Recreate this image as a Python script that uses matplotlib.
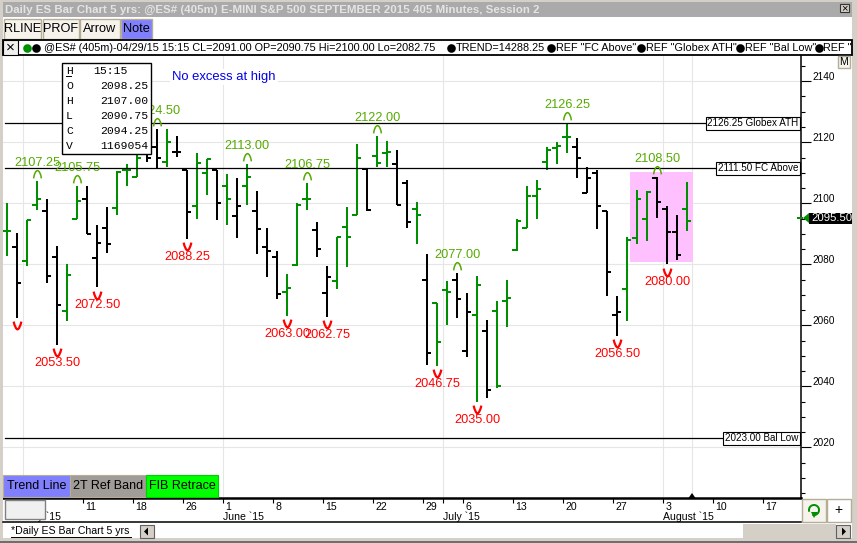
import matplotlib
matplotlib.use('Agg')
import matplotlib.pyplot as plt
from matplotlib.path import Path
from matplotlib.patches import Rectangle, Arc, Polygon
from matplotlib.transforms import blended_transform_factory

plt.rcParams['font.family'] = ['Liberation Sans', 'DejaVu Sans']

# bar data
highs = [2100, 2090.25, 2094.5, 2107.25, 2101.25, 2086, 2080.25, 2105.75, 2105.75, 2092.75,
         2098.75, 2110.5, 2112.75, 2116, 2120, 2124.5, 2124.25, 2122, 2111, 2116.5,
         2114.5, 2111, 2109.75, 2108.25, 2113, 2104, 2091.75, 2084.5, 2076.75, 2100.25,
         2106.75, 2093.75, 2079.5, 2089, 2098.75, 2119.5, 2111.5, 2122, 2120.25, 2117.5,
         2107.5, 2100.5, 2083.25, 2067.25, 2074.5, 2077, 2070.5, 2076.25, 2061.75, 2068,
         2075, 2094.75, 2105.75, 2107.5, 2118.5, 2120, 2126.25, 2121.5, 2111.75, 2110.75,
         2097.5, 2069.5, 2089, 2104.5, 2104, 2108.5, 2099, 2096, 2107]
lows = [2082.75, 2062.5, 2079.5, 2097.75, 2074, 2053.5, 2061.5, 2094.75, 2090, 2072.5,
        2083.75, 2096, 2105.75, 2108.5, 2113.5, 2111.5, 2112, 2115.25, 2088.25, 2094.75,
        2102.75, 2094.5, 2092.75, 2088.75, 2099.5, 2083.5, 2076, 2068.5, 2063, 2079.5,
        2097.75, 2082.25, 2062.75, 2072, 2079, 2096.25, 2097.5, 2111.75, 2111.75, 2099.5,
        2092, 2086.5, 2047, 2046.75, 2060, 2062.25, 2049.5, 2035, 2036.25, 2039.5,
        2059.5, 2084.25, 2091.75, 2095, 2111, 2113, 2116.5, 2108.25, 2103.25, 2091.5,
        2069.5, 2056.5, 2061.5, 2086.75, 2087.75, 2095.25, 2080, 2081.5, 2090.75]
opens = [2090.75, 2085.75, 2081, 2099.5, 2097.5, 2082.5, 2064.75, 2094.75, 2101.5, 2082,
         2092, 2098.5, 2111, 2108.5, 2118, 2118.5, 2113.5, 2116.75, 2110.75, 2099,
         2110, 2110.75, 2105.75, 2095.75, 2105.75, 2097.5, 2085.75, 2082.25, 2071, 2079.75,
         2101.5, 2091.25, 2070.5, 2074.5, 2092.25, 2096.25, 2111.25, 2115.5, 2116.5, 2113,
         2106.75, 2098.25, 2075, 2067.25, 2071.5, 2075, 2051.5, 2063.5, 2058, 2064.75,
         2068, 2084.75, 2092, 2102.5, 2113.5, 2118.25, 2121.75, 2118.5, 2103.5, 2110,
         2097.5, 2063.5, 2071.75, 2088.5, 2095, 2108.25, 2098.25, 2090.5, 2098.25]
closes = [2091, 2074, 2094.5, 2101.5, 2076.25, 2066.5, 2076.5, 2100.75, 2090, 2087,
          2086.75, 2110.25, 2111, 2115, 2115, 2114.75, 2120, 2116.75, 2097.25, 2113.25,
          2114.5, 2100.25, 2101.5, 2099.25, 2108.5, 2091.5, 2084.5, 2070.25, 2072.25, 2099.5,
          2101.5, 2085, 2075.75, 2089, 2089, 2115, 2097.75, 2113.25, 2116.75, 2099.5,
          2093.75, 2096, 2051, 2054.5, 2071, 2068.75, 2064.5, 2073.25, 2038.75, 2040.25,
          2069, 2094.25, 2102.5, 2104.75, 2117.5, 2118.75, 2121.75, 2115, 2108.25, 2099,
          2077.5, 2064.25, 2088, 2101.5, 2103.75, 2100.5, 2090.5, 2083, 2094.25]
bar_green = [1, 0, 1, 1, 0, 0, 1, 1, 0, 0, 0, 1, 1, 1, 0, 0, 1, 0, 0, 1, 1, 0, 1, 0, 1, 0, 0, 0, 1, 1,
             1, 0, 0, 1, 1, 1, 0, 1, 1, 0, 0, 1, 0, 1, 1, 0, 0, 1, 0, 1, 1, 1, 1, 1, 1, 1, 1, 0, 0, 0,
             0, 0, 1, 1, 1, 0, 0, 0, 1]

# swing marks: bar index and printed price
top_bars = [3, 7, 15, 24, 30, 37, 45, 56, 65]
top_text = ['2107.25', '2105.75', '2124.50', '2113.00', '2106.75', '2122.00', '2077.00', '2126.25', '2108.50']
bottom_bars = [1, 5, 9, 18, 28, 32, 43, 47, 61, 66]
bottom_text = ['', '2053.50', '2072.50', '2088.25', '2063.00', '2062.75', '2046.75', '2035.00', '2056.50', '2080.00']

# reference lines
ref_values = [2126.25, 2111.50, 2023.00]
ref_text = ['2126.25 Globex ATH', '2111.50 FC Above', '2023.00 Bal Low']

# axis labels
price_major = [2020, 2040, 2060, 2080, 2100, 2120, 2140]
price_minor = [2005, 2010, 2015, 2025, 2030, 2035, 2045, 2050, 2055, 2065, 2070, 2075, 2085, 2090, 2095,
               2105, 2110, 2115, 2125, 2130, 2135, 2145]
date_bars = [8, 13, 18, 22, 27, 32, 37, 42, 44, 46, 51, 56, 61, 66, 71, 76]
date_text = ['11', '18', '26', '1', '8', '15', '22', '29', '', '6', '13', '20', '27', '3', '10', '17']
month_bars = [2, 22, 44, 66]
month_text = ['May `15', 'June `15', 'July `15', 'August `15']
grid_bars = [2, 22, 44, 66, 68.87]

info_rows = ['O', 'H', 'L', 'C', 'V']
info_vals = ['2098.25', '2107.00', '2090.75', '2094.25', '1169054']

GREEN = '#008f00'
LABEL_GREEN = '#55aa00'
W, H = 857, 543


def px(v):
    return v * 0.72


fig = plt.figure(figsize=(W / 100, H / 100), dpi=100, facecolor='white')

# price panel runs from x=3 to 801 and y=55 to 498 in picture pixels
ax = fig.add_axes([3 / W, 1 - 498 / H, 798 / W, 443 / H])
ax.set_xlim(-0.367, 79.43)
ax.set_ylim(2003.4, 2148.6)
for s in ['left', 'top']:
    ax.spines[s].set_visible(False)
ax.spines['right'].set_linewidth(1.1)
ax.spines['bottom'].set_linewidth(1.8)

ax.yaxis.tick_right()
ax.set_yticks(price_major)
ax.set_yticks(price_minor, minor=True)
ax.set_yticklabels([])
ax.tick_params(axis='y', which='major', length=px(10), width=0.8)
ax.tick_params(axis='y', which='minor', length=px(4), width=0.8)
for v in price_major:
    ax.annotate(str(v), (1, v), xycoords=ax.get_yaxis_transform(), xytext=(px(11), px(4)),
                textcoords='offset points', ha='left', va='center', fontsize=7.2, annotation_clip=False)

# vertical and horizontal grid
for v in price_major:
    ax.axhline(v, color='#e6e6e6', lw=0.8, zorder=0)
for b in grid_bars:
    ax.axvline(b - 0.33, color='#e6e6e6', lw=0.8, zorder=0)

# marked value area
ax.add_patch(Rectangle((62.33, 2080.75), 6.3, 29.65, fc='#ffc0ff', ec='none', zorder=1))

# bars
for i in range(len(highs)):
    c = GREEN if bar_green[i] else 'black'
    ax.vlines(i, lows[i], highs[i], color=c, lw=1.45, zorder=3, snap=True)
    ax.hlines(opens[i], i - 0.42, i, color=c, lw=1.45, zorder=3, snap=True)
    ax.hlines(closes[i], i, i + 0.42, color=c, lw=1.45, zorder=3, snap=True)

# ref lines
for v, t in zip(ref_values, ref_text):
    ax.plot([-0.17, 79], [v, v], color='black', lw=0.9, zorder=4)
    ax.annotate(t, (1, v), xycoords=ax.get_yaxis_transform(), xytext=(-2, 0), textcoords='offset points',
                ha='right', va='center', fontsize=7.1, zorder=6,
                bbox=dict(boxstyle='square,pad=0.16', fc='white', ec='black', lw=0.8))

# swing markers
arch = Path([(-1, -1), (-0.75, 0.9), (0, 1), (0.75, 0.9), (1, -1)],
            [Path.MOVETO, Path.CURVE3, Path.LINETO, Path.CURVE3, Path.LINETO])
vee = Path([(-1, 1), (-0.55, -0.9), (0, -1), (0.55, -0.9), (1, 1)],
           [Path.MOVETO, Path.CURVE3, Path.LINETO, Path.CURVE3, Path.LINETO])
for b, t in zip(top_bars, top_text):
    ax.plot([b], [highs[b] + 2.3], marker=arch, ms=5.6, mfc='none', mec=LABEL_GREEN, mew=1.1, zorder=5)
    ax.annotate(t, (b, highs[b]), xytext=(0.5, px(18)), textcoords='offset points', ha='center', va='center',
                color=LABEL_GREEN, fontsize=9.2, zorder=5)
for b, t in zip(bottom_bars, bottom_text):
    ax.plot([b], [lows[b] - 2.4], marker=vee, ms=5.6, mfc='none', mec='#ff0000', mew=1.6, zorder=5)
    if t:
        ax.annotate(t, (b, lows[b]), xytext=(0.5, -px(18)), textcoords='offset points', ha='center', va='center',
                    color='#ff0000', fontsize=9.2, zorder=5)

ax.text(16.55, 2141.5, 'No excess at high', color='#0000ee', fontsize=9.4, va='center', zorder=5,
        bbox=dict(fc='white', ec='none', pad=1.5))

# date axis, labels sit to the right of the ticks
ax.set_xticks([b - 0.33 for b in date_bars])
ax.set_xticklabels([])
ax.tick_params(axis='x', length=px(5), width=0.8)
trans = blended_transform_factory(ax.transData, ax.transAxes)
for b, t in zip(date_bars, date_text):
    ax.annotate(t, (b - 0.33, 0), xycoords=trans, xytext=(1.4, -px(9)), textcoords='offset points',
                ha='left', va='center', fontsize=7.6, annotation_clip=False)
for b, t in zip(month_bars, month_text):
    ax.annotate(t, (b - 0.33, 0), xycoords=trans, xytext=(0, -px(19)), textcoords='offset points',
                ha='left', va='center', fontsize=7.6, annotation_clip=False)

# window chrome on a pixel overlay
ui = fig.add_axes([0, 0, 1, 1], zorder=5)
ui.set_xlim(0, W)
ui.set_ylim(H, 0)
ui.axis('off')
ui.patch.set_visible(False)


def box(x0, y0, x1, y1, fc='white', ec='none', lw=0.8, z=2):
    ui.add_patch(Rectangle((x0, y0), x1 - x0, y1 - y0, fc=fc, ec=ec, lw=lw, zorder=z))


def label(x, y, s, size=8, ha='left', color='black', z=4, **kw):
    ui.text(x, y, s, fontsize=size, ha=ha, va='center', color=color, zorder=z, **kw)


def dot(x, y, c='black'):
    ui.plot([x], [y], 'o', ms=6.2, color=c, mec='none', zorder=4)


# frame
box(0, 0, 3, H, fc='#d4d0c8')
box(852, 0, W, H, fc='#d4d0c8')
box(0, 0, W, 2, fc='#d4d0c8')
box(0, 538, W, H, fc='#d4d0c8')
box(0, 541, W, H, fc='#6e6e6e')

# title bar
box(3, 2, 852, 17, fc='#aaaaaa')
label(5, 9.5, 'Daily ES Bar Chart 5 yrs: @ES# (405m) E-MINI S&P 500 SEPTEMBER 2015 405 Minutes, Session 2',
      size=8.25, color='#e4e4e4', fontweight='bold')
box(840, 4, 849, 12, fc='#d4d0c8', ec='#333333')
label(844.5, 8, '×', size=8, ha='center')

# toolbar buttons
for x0, x1, t, c in [(4, 41, 'RLINE', '#f5f3ec'), (43, 79, 'PROF', '#f5f3ec'),
                     (80, 120, 'Arrow', '#f5f3ec'), (121, 152, 'Note', '#8080ff')]:
    box(x0, 19, x1, 39, fc=c, ec='#b5ad96', lw=1)
    label((x0 + x1) / 2, 29, t, size=9.2, ha='center')

# study legend row
box(3, 40, 852, 54.5, fc='white', ec='black', lw=1.3)
box(3, 40, 18, 54.5, fc='#f0f0f0', ec='black', lw=0.8)
label(10.5, 47.5, '×', size=11, ha='center')
dot(27, 47.5, GREEN)
dot(36, 47.5)
label(44, 48, '@ES# (405m)-04/29/15 15:15 CL=2091.00 OP=2090.75 Hi=2100.00 Lo=2082.75', size=7.85)
for dx, tx, t in [(451, 456, 'TREND=14288.25'), (551, 556, 'REF "FC Above"'),
                  (641, 646, 'REF "Globex ATH"'), (740, 745, 'REF "Bal Low"'), (819, 823, 'REF "')]:
    dot(dx, 47.5)
    label(tx, 48, t, size=7.85)

box(838, 56, 850, 68, fc='#f5f3ec', ec='#b5ad96', lw=1)
label(844, 62, 'M', size=7.5, ha='center')

# OHLC readout
box(62, 63, 151, 154, fc='white', ec='black', lw=1, z=6)
MONO = 'Liberation Mono'
ui.text(66, 71, 'H', family=MONO, fontsize=8.2, va='center', zorder=7)
ui.plot([66, 71], [76, 76], color='black', lw=0.7, zorder=7)
ui.text(128, 71, '15:15', family=MONO, fontsize=8.2, va='center', ha='right', zorder=7)
for n, (r, v) in enumerate(zip(info_rows, info_vals)):
    ui.text(66, 86 + n * 15, r, family=MONO, fontsize=8.2, va='center', zorder=7)
    ui.text(148, 86 + n * 15, v, family=MONO, fontsize=8.2, va='center', ha='right', zorder=7)

# drawing tool buttons
for x0, x1, t, c in [(3, 70, 'Trend Line', '#8080ff'), (70, 146, '2T Ref Band', '#a09c98'),
                     (146, 218, 'FIB Retrace', '#00ff00')]:
    box(x0, 475, x1, 497, fc=c, ec='#b5ad96' if c != '#00ff00' else '#00d000', lw=0.8)
    label((x0 + x1) / 2, 486, t, size=9, ha='center')

# last price marker
box(797, 217, 803, 219, fc=GREEN, z=6)
ui.add_patch(Polygon([(803, 218), (809, 213), (809, 223)], fc=GREEN, ec='none', zorder=6))
box(809, 213, 852, 223.5, fc='black', z=6)
label(811, 218.3, '2095.50', size=8.2, color='white', z=7)
ui.add_patch(Polygon([(688.5, 498), (692, 493), (695.5, 498)], fc='black', ec='none', zorder=6))

# lower left date box and lower rows
box(5, 500, 45, 519, fc='#f0f0f0', ec='#808080', lw=1, z=6)
ui.plot([3, 801], [522.3, 522.3], color='black', lw=1.1, zorder=3)
box(802, 499, 826, 522, fc='#f5f3ec', ec='#b5ad96', lw=1)
ui.add_patch(Arc((814, 510), 10, 10, theta1=-200, theta2=110, color=GREEN, lw=1.4, zorder=4))
ui.add_patch(Polygon([(811, 512), (818, 512), (814, 518)], fc=GREEN, ec='none', zorder=4))
box(827, 499, 851, 522, fc='white', ec='#b5ad96', lw=1)
label(838, 510, '+', size=10, ha='center')

# tab row
label(11, 531, '*Daily ES Bar Chart 5 yrs', size=7.6)
ui.plot([11, 131], [537, 537], color='black', lw=0.7, zorder=4)
box(140, 525, 154, 538, fc='#d4d0c8', ec='#606060', lw=0.8)
ui.add_patch(Polygon([(144, 531.5), (148, 527.5), (148, 535.5)], fc='black', zorder=4))
box(743, 524, 836, 538, fc='#d4d0c8')
box(836, 525, 850, 538, fc='#d4d0c8', ec='#606060', lw=0.8)
ui.add_patch(Polygon([(846, 531.5), (842, 527.5), (842, 535.5)], fc='black', zorder=4))

fig.savefig('out.png', dpi=100)
